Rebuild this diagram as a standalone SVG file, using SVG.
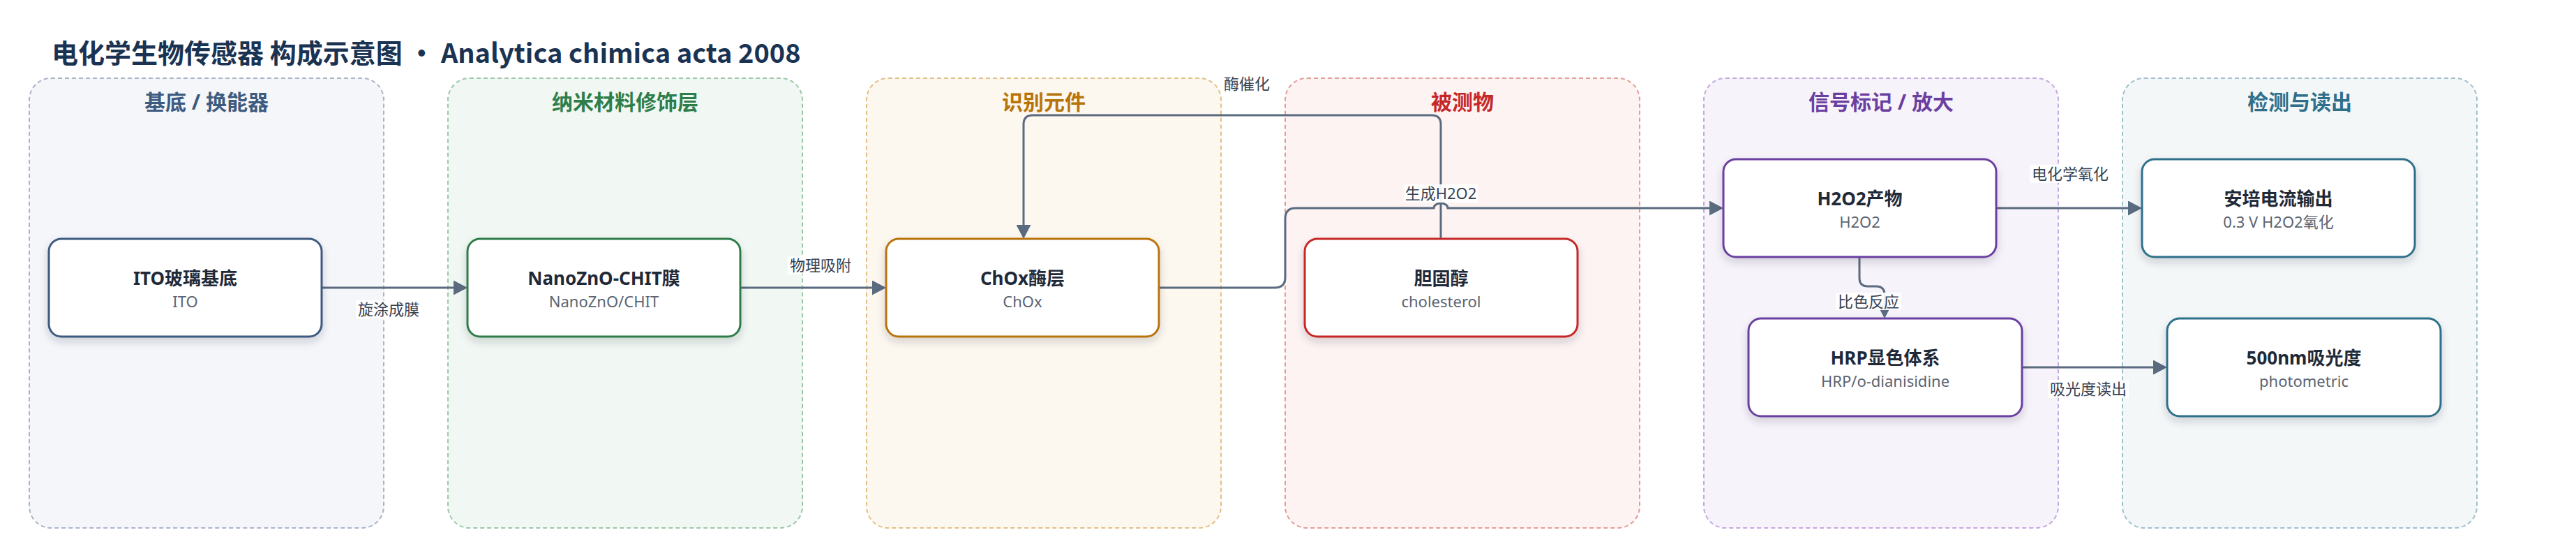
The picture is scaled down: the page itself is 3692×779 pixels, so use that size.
<svg xmlns="http://www.w3.org/2000/svg" width="3692" height="779" viewBox="0 0 3692 779">
<defs>
<style>
text{font-family:"Noto Sans","Noto Sans CJK SC",sans-serif;}
.title{font-family:"Noto Sans CJK SC","Noto Sans",sans-serif;font-size:38px;font-weight:700;fill:#1b3352;}
.lane{stroke-width:2;stroke-dasharray:6 4;}
.lt{font-size:30px;font-weight:700;text-anchor:middle;}
.node{fill:#fff;stroke-width:3;filter:url(#sh);}
.nt{font-size:26px;font-weight:700;fill:#1f2937;text-anchor:middle;}
.ns{font-size:22px;fill:#5b6472;text-anchor:middle;}
.edge{fill:none;stroke:#5a6a7f;stroke-width:3;}
.arr{marker-end:url(#ah);}
.lbg{fill:#fff;opacity:0.92;}
.lbl{font-size:22px;fill:#374151;text-anchor:middle;}
</style>
<filter id="sh" x="-10%" y="-20%" width="120%" height="150%">
<feDropShadow dx="0" dy="6" stdDeviation="6" flood-color="#1f2937" flood-opacity="0.18"/>
</filter>
<marker id="ah" markerUnits="userSpaceOnUse" markerWidth="20" markerHeight="21" refX="10" refY="10.5" orient="auto">
<path d="M0,0 L20,10.5 L0,21 Z" fill="#5a6a7f"/>
</marker>
</defs>
<rect width="3692" height="779" fill="#fff"/>
<text class="title" x="74" y="90">电化学生物传感器 构成示意图 · Analytica chimica acta 2008</text>

<g id="lanes">
<g id="lane-substrate"><rect class="lane" x="42" y="112" width="508" height="644" rx="31" fill="#f4f6fa" stroke="#a9b5c7"/><text class="lt" x="296" y="157" fill="#3d5a80">基底 / 换能器</text></g>
<g id="lane-nano"><rect class="lane" x="642" y="112" width="508" height="644" rx="31" fill="#f1f8f3" stroke="#9cc8a9"/><text class="lt" x="896" y="157" fill="#2e7d4a">纳米材料修饰层</text></g>
<g id="lane-recog"><rect class="lane" x="1242" y="112" width="508" height="644" rx="31" fill="#fdf8ef" stroke="#e3c087"/><text class="lt" x="1496" y="157" fill="#b8730a">识别元件</text></g>
<g id="lane-analyte"><rect class="lane" x="1842" y="112" width="508" height="644" rx="31" fill="#fdf3f2" stroke="#e49c98"/><text class="lt" x="2096" y="157" fill="#c62828">被测物</text></g>
<g id="lane-signal"><rect class="lane" x="2442" y="112" width="508" height="644" rx="31" fill="#f7f3fb" stroke="#c5a8e0"/><text class="lt" x="2696" y="157" fill="#6b3fa0">信号标记 / 放大</text></g>
<g id="lane-detect"><rect class="lane" x="3042" y="112" width="508" height="644" rx="31" fill="#f3f7f8" stroke="#9fc0cd"/><text class="lt" x="3296" y="157" fill="#2f6f8a">检测与读出</text></g>
</g>

<g id="connectors">
<path class="edge arr" d="M461,412 H660"/>
<path class="edge arr" d="M1060,412 H1260"/>
<path class="edge arr" d="M2065,342 V178 Q2065,165 2052,165 H1480 Q1467,165 1467,178 V332"/>
<path class="edge arr" d="M1661,412 H1827 Q1842,412 1842,397 V313 Q1842,298 1857,298 H2055 A10,7 0 0 1 2075,298 H2460"/>
<path class="edge arr" d="M2861,298 H3060"/>
<path class="edge arr" d="M2665,368 V398 Q2665,410 2677,410 H2689 Q2701,410 2701,422 V446"/>
<path class="edge arr" d="M2898,526 H3096"/>
</g>

<g id="nodes">
<g id="n-ito"><rect class="node" x="70" y="342" width="391" height="140" rx="18" stroke="#3d5a80"/><text class="nt" x="265.5" y="408">ITO玻璃基底</text><text class="ns" x="265.5" y="440">ITO</text></g>
<g id="n-nano"><rect class="node" x="670" y="342" width="391" height="140" rx="18" stroke="#2e7d4a"/><text class="nt" x="865.5" y="408">NanoZnO-CHIT膜</text><text class="ns" x="865.5" y="440">NanoZnO/CHIT</text></g>
<g id="n-chox"><rect class="node" x="1270" y="342" width="391" height="140" rx="18" stroke="#b8730a"/><text class="nt" x="1465.5" y="408">ChOx酶层</text><text class="ns" x="1465.5" y="440">ChOx</text></g>
<g id="n-chol"><rect class="node" x="1870" y="342" width="391" height="140" rx="18" stroke="#c62828"/><text class="nt" x="2065.5" y="408">胆固醇</text><text class="ns" x="2065.5" y="440">cholesterol</text></g>
<g id="n-h2o2"><rect class="node" x="2470" y="228" width="391" height="140" rx="18" stroke="#6b3fa0"/><text class="nt" x="2665.5" y="294">H2O2产物</text><text class="ns" x="2665.5" y="326">H2O2</text></g>
<g id="n-hrp"><rect class="node" x="2506" y="456" width="392" height="140" rx="18" stroke="#6b3fa0"/><text class="nt" x="2702" y="522">HRP显色体系</text><text class="ns" x="2702" y="554">HRP/o-dianisidine</text></g>
<g id="n-amp"><rect class="node" x="3070" y="228" width="391" height="140" rx="18" stroke="#2f6f8a"/><text class="nt" x="3265.5" y="294">安培电流输出</text><text class="ns" x="3265.5" y="326">0.3 V H2O2氧化</text></g>
<g id="n-abs"><rect class="node" x="3106" y="456" width="392" height="140" rx="18" stroke="#2f6f8a"/><text class="nt" x="3302" y="522">500nm吸光度</text><text class="ns" x="3302" y="554">photometric</text></g>
</g>

<g id="edge-labels">
<rect class="lbg" x="510" y="430" width="94" height="26"/><text class="lbl" x="557" y="451">旋涂成膜</text>
<rect class="lbg" x="1129" y="367" width="94" height="26"/><text class="lbl" x="1176" y="388">物理吸附</text>
<rect class="lbg" x="1751" y="107" width="72" height="26"/><text class="lbl" x="1787" y="128">酶催化</text>
<rect class="lbg" x="2012" y="264" width="106" height="26"/><text class="lbl" x="2065" y="285">生成H2O2</text>
<rect class="lbg" x="2909" y="236" width="116" height="26"/><text class="lbl" x="2967" y="257">电化学氧化</text>
<rect class="lbg" x="2631" y="419" width="94" height="25"/><text class="lbl" x="2678" y="440">比色反应</text>
<rect class="lbg" x="2935" y="544" width="116" height="26"/><text class="lbl" x="2993" y="565">吸光度读出</text>
</g>
</svg>
